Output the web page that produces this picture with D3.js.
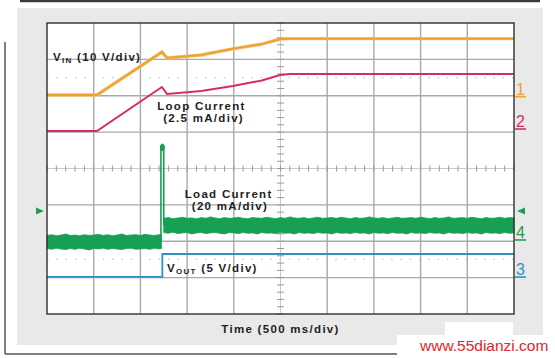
<!DOCTYPE html>
<html><head><meta charset="utf-8">
<script src="https://cdn.jsdelivr.net/npm/d3@7"></script>
<style>
html,body{margin:0;padding:0;background:#fff;}
svg{display:block;}
text{font-family:"Liberation Sans",Arial,sans-serif;}
</style></head>
<body>
<svg id="chart" width="555" height="358"></svg>
<script>
// ---- data (screen divisions: time 0..10 div @ 500 ms/div, amplitude -4..4 div) ----
const timeDomain = [0, 10];
const ampDomain = [-4, 4];

// Ch1 VIN (10 V/div)
const vinTime = [0, 1.07, 2.46, 2.57, 3.3, 3.98, 4.6, 4.99, 5.2, 10];
const vinDiv  = [2.02, 2.02, 3.20, 3.04, 3.12, 3.29, 3.42, 3.56, 3.57, 3.57];

// Ch2 Loop current (2.5 mA/div)
const loopTime = [0, 1.07, 2.46, 2.57, 3.3, 3.98, 4.6, 4.99, 5.2, 10];
const loopDiv  = [1.03, 1.03, 2.24, 2.05, 2.13, 2.27, 2.42, 2.57, 2.60, 2.60];

// Ch3 VOUT (5 V/div)
const voutTime = [0, 2.47, 2.47, 10];
const voutDiv  = [-2.98, -2.98, -2.35, -2.35];

// Ch4 Load current (20 mA/div): noisy band envelope [time, top, bottom]
const loadBefore = [
 [0.00,-1.84,-2.20],[0.10,-1.82,-2.22],[0.20,-1.85,-2.19],[0.30,-1.83,-2.21],[0.40,-1.80,-2.23],
 [0.50,-1.84,-2.20],[0.60,-1.83,-2.22],[0.70,-1.85,-2.19],[0.80,-1.82,-2.21],[0.90,-1.84,-2.24],
 [1.00,-1.83,-2.20],[1.10,-1.81,-2.21],[1.20,-1.84,-2.19],[1.30,-1.82,-2.22],[1.40,-1.85,-2.20],
 [1.50,-1.83,-2.21],[1.60,-1.80,-2.23],[1.70,-1.84,-2.20],[1.80,-1.83,-2.19],[1.90,-1.82,-2.22],
 [2.00,-1.84,-2.21],[2.10,-1.81,-2.20],[2.20,-1.83,-2.22],[2.30,-1.84,-2.19],[2.40,-1.82,-2.21],
 [2.45,-1.83,-2.20]];
const loadAfter = [
 [2.50,-1.37,-1.76],[2.60,-1.35,-1.78],[2.70,-1.38,-1.75],[2.80,-1.36,-1.79],[2.90,-1.34,-1.77],
 [3.00,-1.37,-1.76],[3.10,-1.36,-1.80],[3.20,-1.38,-1.77],[3.30,-1.35,-1.76],[3.40,-1.37,-1.79],
 [3.50,-1.33,-1.77],[3.60,-1.36,-1.76],[3.70,-1.38,-1.78],[3.80,-1.35,-1.80],[3.90,-1.37,-1.76],
 [4.00,-1.36,-1.77],[4.10,-1.34,-1.79],[4.20,-1.37,-1.76],[4.30,-1.38,-1.78],[4.40,-1.35,-1.77],
 [4.50,-1.36,-1.80],[4.60,-1.37,-1.76],[4.70,-1.34,-1.78],[4.80,-1.36,-1.77],[4.90,-1.38,-1.79],
 [5.00,-1.35,-1.76],[5.10,-1.37,-1.78],[5.20,-1.33,-1.77],[5.30,-1.36,-1.80],[5.40,-1.37,-1.76],
 [5.50,-1.35,-1.78],[5.60,-1.38,-1.77],[5.70,-1.36,-1.79],[5.80,-1.34,-1.76],[5.90,-1.37,-1.78],
 [6.00,-1.36,-1.77],[6.10,-1.35,-1.80],[6.20,-1.37,-1.76],[6.30,-1.34,-1.78],[6.40,-1.36,-1.77],
 [6.50,-1.38,-1.79],[6.60,-1.35,-1.76],[6.70,-1.37,-1.78],[6.80,-1.36,-1.77],[6.90,-1.33,-1.80],
 [7.00,-1.36,-1.76],[7.10,-1.37,-1.78],[7.20,-1.35,-1.77],[7.30,-1.38,-1.79],[7.40,-1.36,-1.76],
 [7.50,-1.34,-1.78],[7.60,-1.37,-1.77],[7.70,-1.36,-1.80],[7.80,-1.35,-1.76],[7.90,-1.37,-1.78],
 [8.00,-1.34,-1.77],[8.10,-1.36,-1.79],[8.20,-1.38,-1.76],[8.30,-1.35,-1.78],[8.40,-1.37,-1.77],
 [8.50,-1.36,-1.80],[8.60,-1.33,-1.76],[8.70,-1.37,-1.78],[8.80,-1.36,-1.77],[8.90,-1.35,-1.79],
 [9.00,-1.37,-1.76],[9.10,-1.34,-1.78],[9.20,-1.36,-1.77],[9.30,-1.38,-1.80],[9.40,-1.35,-1.76],
 [9.50,-1.37,-1.78],[9.60,-1.36,-1.77],[9.70,-1.34,-1.79],[9.80,-1.37,-1.76],[9.90,-1.35,-1.78],
 [10.0,-1.36,-1.77]];
// spike at the load step
const spikeTime = [2.44, 2.44, 2.47, 2.50, 2.50];
const spikeDiv  = [-2.02, 0.62, 0.66, 0.62, -1.56];
const triggerLevelDiv = -1.17;

// labels
const traceLabels = [
 {lines:["Loop Current","(2.5 mA/div)"], t:2.36, a:1.60, dx:[0,6]},
 {lines:["Load Current","(20 mA/div)"],  t:2.95, a:-0.82, dx:[0,7]}
];
const channelMarks = [
 {name:"1", color:"#eda234", a:2.03},
 {name:"2", color:"#d42f5c", a:1.14},
 {name:"4", color:"#17a053", a:-1.91},
 {name:"3", color:"#2b93c4", a:-2.93}
];
const xTitle = "Time (500 ms/div)";
const watermark = "www.55dianzi.com";

// ---- drawing ----
const svg = d3.select("#chart");
const x = d3.scaleLinear().domain(timeDomain).range([47, 514]);
const y = d3.scaleLinear().domain(ampDomain).range([314, 23]);

// outer decoration
svg.append("rect").attr("x",17).attr("y",8).attr("width",526).attr("height",337).attr("fill","#e9e9e9");
svg.append("line").attr("x1",20).attr("x2",540).attr("y1",1).attr("y2",1).attr("stroke","#3a3a3a").attr("stroke-width",2.5);
svg.append("line").attr("x1",5).attr("x2",5).attr("y1",42).attr("y2",354).attr("stroke","#555").attr("stroke-width",1.5);
svg.append("line").attr("x1",5).attr("x2",397).attr("y1",354).attr("y2",354).attr("stroke","#555").attr("stroke-width",1.5);

// plot area
svg.append("rect").attr("x",x(0)).attr("y",y(4)).attr("width",x(10)-x(0)).attr("height",y(-4)-y(4)).attr("fill","#fff");
const grid = svg.append("g");
d3.range(1,10).filter(d=>d!==5).forEach(d=>{
  grid.append("line").attr("x1",x(d)).attr("x2",x(d)).attr("y1",y(4)).attr("y2",y(-4)).attr("stroke","#a9a9a9").attr("stroke-width",1.4);
});
d3.range(-3,4).filter(d=>d!==0).forEach(d=>{
  grid.append("line").attr("x1",x(0)).attr("x2",x(10)).attr("y1",y(d)).attr("y2",y(d)).attr("stroke","#a9a9a9").attr("stroke-width",1.4);
});
// center axes with minor ticks
grid.append("line").attr("x1",x(5)).attr("x2",x(5)).attr("y1",y(4)).attr("y2",y(-4)).attr("stroke","#c8c8c8").attr("stroke-width",1);
grid.append("line").attr("x1",x(0)).attr("x2",x(10)).attr("y1",y(0)).attr("y2",y(0)).attr("stroke","#c8c8c8").attr("stroke-width",1);
d3.range(0,10.01,0.2).forEach(t=>{
  grid.append("line").attr("x1",x(t)).attr("x2",x(t)).attr("y1",y(0)-3).attr("y2",y(0)+3).attr("stroke","#999").attr("stroke-width",1);
});
d3.range(-4,4.01,0.2).forEach(a=>{
  grid.append("line").attr("x1",x(5)-3.5).attr("x2",x(5)+3.5).attr("y1",y(a)).attr("y2",y(a)).attr("stroke","#999").attr("stroke-width",1);
});
// dotted marker lines
[2.5,-2.5].forEach(a=>{
  grid.append("line").attr("x1",x(0)).attr("x2",x(10)).attr("y1",y(a)).attr("y2",y(a))
    .attr("stroke","#c4c4c4").attr("stroke-width",1.2).attr("stroke-dasharray","1.5,7.8");
});

// traces
const line = d3.line().x(d=>x(d[0])).y(d=>y(d[1]));
const zip = (a,b)=>a.map((v,i)=>[v,b[i]]);

// load current band
const band = d3.area().x(d=>x(d[0])).y0(d=>y(d[2])).y1(d=>y(d[1]));
svg.append("path").attr("d",band(loadBefore)).attr("fill","#17a053").attr("stroke","#17a053").attr("stroke-width",0.8);
svg.append("path").attr("d",band(loadAfter)).attr("fill","#17a053").attr("stroke","#17a053").attr("stroke-width",0.8);
svg.append("path").attr("d",line(zip(spikeTime,spikeDiv))).attr("fill","none").attr("stroke","#17a053").attr("stroke-width",1.6);
svg.append("ellipse").attr("cx",x(2.47)).attr("cy",y(0.58)).attr("rx",2.4).attr("ry",3.5).attr("fill","#17a053");

svg.append("path").attr("d",line(zip(voutTime,voutDiv))).attr("fill","none").attr("stroke","#2b93c4").attr("stroke-width",1.8);
svg.append("path").attr("d",line(zip(loopTime,loopDiv))).attr("fill","none").attr("stroke","#d42f5c").attr("stroke-width",2);
svg.append("path").attr("d",line(zip(vinTime,vinDiv))).attr("fill","none").attr("stroke","#f5c070").attr("stroke-width",3.4);
svg.append("path").attr("d",line(zip(vinTime,vinDiv))).attr("fill","none").attr("stroke","#eda234").attr("stroke-width",2);

// plot border
svg.append("rect").attr("x",x(0)).attr("y",y(4)).attr("width",x(10)-x(0)).attr("height",y(-4)-y(4))
  .attr("fill","none").attr("stroke","#2e2e2e").attr("stroke-width",1.4);

// trigger markers
svg.append("path").attr("d",`M36,${y(triggerLevelDiv)-3.5}L44,${y(triggerLevelDiv)}L36,${y(triggerLevelDiv)+3.5}Z`).attr("fill","#17a053");
svg.append("path").attr("d",`M525,${y(triggerLevelDiv)-3.5}L517,${y(triggerLevelDiv)}L525,${y(triggerLevelDiv)+3.5}Z`).attr("fill","#17a053");

// channel numbers
channelMarks.forEach(c=>{
  svg.append("text").attr("x",516).attr("y",y(c.a)).attr("font-size",16).attr("fill",c.color).text(c.name);
  svg.append("line").attr("x1",515).attr("x2",526).attr("y1",y(c.a)+2).attr("y2",y(c.a)+2).attr("stroke",c.color).attr("stroke-width",1.6);
});

// trace labels
const lab = {"font-size":11.5,"font-weight":"bold","fill":"#1e1e1e","letter-spacing":"1.3px"};
function styleText(t){ Object.entries(lab).forEach(([k,v])=>t.attr(k,v)); return t; }
const vin = styleText(svg.append("text").attr("x",53).attr("y",61));
vin.append("tspan").text("V");
vin.append("tspan").attr("font-size",8).attr("dy",2).text("IN");
vin.append("tspan").attr("dy",-2).text(" (10 V/div)");
traceLabels.forEach(l=>{
  l.lines.forEach((s,i)=>{
    styleText(svg.append("text").attr("x",x(l.t)+l.dx[i]).attr("y",y(l.a)+i*11.5).text(s));
  });
});
const vout = styleText(svg.append("text").attr("x",167).attr("y",272));
vout.append("tspan").text("V");
vout.append("tspan").attr("font-size",8).attr("dy",2).text("OUT");
vout.append("tspan").attr("dy",-2).text(" (5 V/div)");

styleText(svg.append("text").attr("x",(x(0)+x(10))/2).attr("y",333).attr("text-anchor","middle").text(xTitle));

// watermark
svg.append("rect").attr("x",445).attr("y",322).attr("width",68).attr("height",14).attr("fill","#fff");
svg.append("rect").attr("x",397).attr("y",335).attr("width",158).attr("height",23).attr("fill","#fff");
svg.append("text").attr("x",420).attr("y",351).attr("font-size",15.5).attr("fill","#e0262a").text(watermark);
</script>
</body></html>
